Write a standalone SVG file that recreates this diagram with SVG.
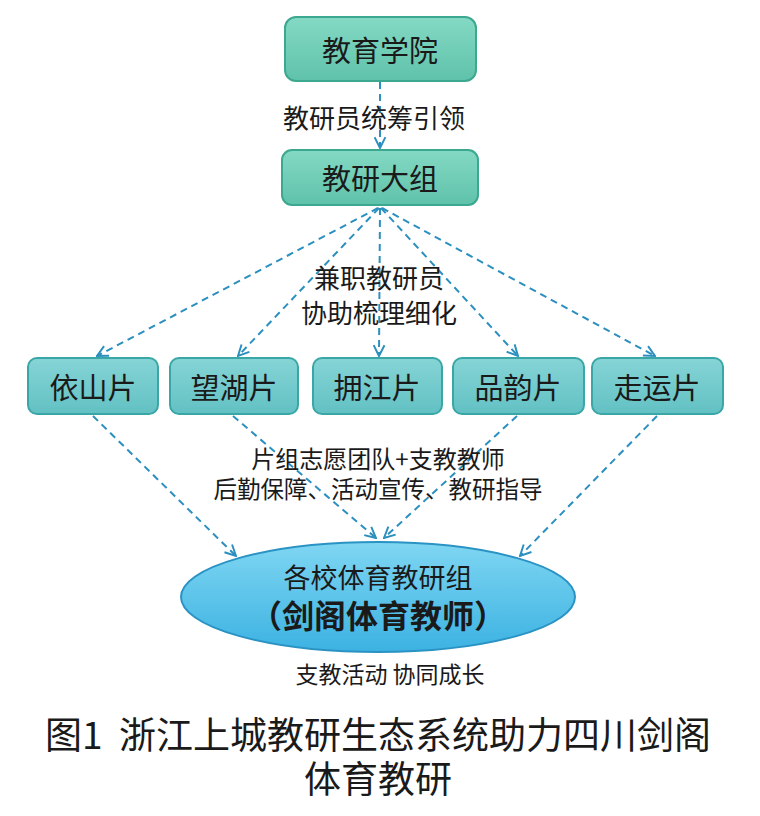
<svg xmlns="http://www.w3.org/2000/svg" width="760" height="816" viewBox="0 0 760 816">
<style>
text{font-family:"Noto Sans CJK SC","Noto Sans",sans-serif;fill:#1a1a1a;text-anchor:middle;dominant-baseline:central}
.top{fill:url(#gTop);stroke:#3ba88f;stroke-width:2}
.pian{fill:url(#gPian);stroke:#3aa6a6;stroke-width:2}
.box{font-size:29px}
.lbl{font-size:26px}
.conn{fill:none;stroke:#2b8fbf;stroke-width:2;stroke-dasharray:7 5;marker-end:url(#arr)}
</style>
<defs>
<linearGradient id="gTop" x1="0" y1="0" x2="0" y2="1">
<stop offset="0" stop-color="#84d9c4"/><stop offset="1" stop-color="#5fc2aa"/>
</linearGradient>
<linearGradient id="gPian" x1="0" y1="0" x2="0" y2="1">
<stop offset="0" stop-color="#86d4d6"/><stop offset="1" stop-color="#62c1c3"/>
</linearGradient>
<linearGradient id="gEll" x1="0" y1="0" x2="0" y2="1">
<stop offset="0" stop-color="#7fd6f2"/><stop offset="1" stop-color="#3cb2e2"/>
</linearGradient>
<marker id="arr" viewBox="0 0 12 12" refX="11" refY="6" markerWidth="13" markerHeight="13" markerUnits="userSpaceOnUse" orient="auto">
<path d="M1,1 L11,6 L1,11" fill="none" stroke="#2b8fbf" stroke-width="1.8"/>
</marker>
</defs>

<g id="connectors">
<line class="conn" x1="380" y1="82" x2="380" y2="148"/>
<line class="conn" x1="378" y1="208" x2="97" y2="356"/>
<line class="conn" x1="379" y1="208" x2="238" y2="356"/>
<line class="conn" x1="380" y1="208" x2="379" y2="356"/>
<line class="conn" x1="381" y1="208" x2="518" y2="356"/>
<line class="conn" x1="382" y1="208" x2="655" y2="356"/>
<line class="conn" x1="93" y1="416" x2="236" y2="556"/>
<line class="conn" x1="233" y1="416" x2="376" y2="538"/>
<line class="conn" x1="517" y1="416" x2="384" y2="538"/>
<line class="conn" x1="657" y1="416" x2="520" y2="556"/>
</g>

<g id="n-jyxy">
<rect class="top" x="285" y="17" width="191" height="64" rx="11"/>
<text class="box" x="380" y="49">教育学院</text>
</g>
<text class="lbl" x="374" y="116">教研员统筹引领</text>
<g id="n-jydz">
<rect class="top" x="282" y="150" width="196" height="55" rx="10"/>
<text class="box" x="380" y="177">教研大组</text>
</g>
<text class="lbl" x="379" y="276">兼职教研员</text>
<text class="lbl" x="379" y="311">协助梳理细化</text>

<g id="n-ys">
<rect class="pian" x="28" y="358" width="130" height="56" rx="9"/>
<text class="box" x="93" y="386">依山片</text>
</g>
<g id="n-wh">
<rect class="pian" x="170" y="358" width="128" height="56" rx="9"/>
<text class="box" x="234" y="386">望湖片</text>
</g>
<g id="n-yj">
<rect class="pian" x="313" y="358" width="129" height="56" rx="9"/>
<text class="box" x="377" y="386">拥江片</text>
</g>
<g id="n-py">
<rect class="pian" x="453" y="358" width="131" height="56" rx="9"/>
<text class="box" x="518" y="386">品韵片</text>
</g>
<g id="n-zy">
<rect class="pian" x="592" y="358" width="131" height="56" rx="9"/>
<text class="box" x="657" y="386">走运片</text>
</g>

<text class="lbl" x="378" y="457" style="font-size:24px">片组志愿团队+支教教师</text>
<text class="lbl" x="378" y="488" style="font-size:23.5px">后勤保障、活动宣传、教研指导</text>

<g id="n-gx">
<ellipse cx="378" cy="597" rx="197" ry="55" fill="url(#gEll)" stroke="#2a93c4" stroke-width="2"/>
<text x="378" y="576" style="font-size:27px">各校体育教研组</text>
<text x="378" y="614" style="font-size:32px;font-weight:bold">（剑阁体育教师）</text>
</g>
<text x="390" y="673" style="font-size:23px">支教活动 协同成长</text>

<text x="378" y="733" style="font-size:37px" xml:space="preserve">图1  浙江上城教研生态系统助力四川剑阁</text>
<text x="378" y="777" style="font-size:37px">体育教研</text>
</svg>
